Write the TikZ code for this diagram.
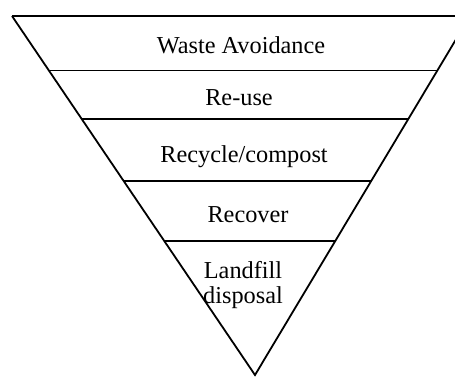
\documentclass[tikz,border=0pt]{standalone}
\usepackage{fontspec}
\setmainfont{Liberation Serif}
\usetikzlibrary{calc}
\begin{document}
\begin{tikzpicture}[x=1bp,y=-1bp,
  edge/.style={line width=1.8bp, line cap=butt},
  label/.style={anchor=base, inner sep=0pt, font=\fontsize{24.3bp}{25bp}\selectfont, align=center}]
  \useasboundingbox (0,0) rectangle (455,376);
  \clip (0,0) rectangle (455,376);
  % outline of the inverted triangle
  \coordinate (TL) at (12,16);
  \coordinate (TR) at (470,16);
  \coordinate (A) at (255,375);
  \draw[edge, line width=2.1bp] (TL) -- (TR);
  \draw[edge, line join=miter] (TL) -- (A) -- (TR);
  % dividing lines between the levels
  \foreach \t/\n in {0.1518/a, 0.2869/b, 0.4596/c, 0.6267/d}{
    \coordinate (l\n) at ($(TL)!\t!(A)$);
    \coordinate (r\n) at ($(TR)!\t!(A)$);
    \draw[edge] (l\n) -- (r\n);
  }
  % level labels
  \node[label] (avoid) at (241,53) {Waste Avoidance};
  \node[label] (reuse) at (239,105) {Re-use};
  \node[label] (recycle) at (244,162) {Recycle/compost};
  \node[label] (recover) at (248,222) {Recover};
  \node[label] (landfill) at (243,278) {Landfill};
  \node[label] (disposal) at (243,303) {disposal};
\end{tikzpicture}
\end{document}
